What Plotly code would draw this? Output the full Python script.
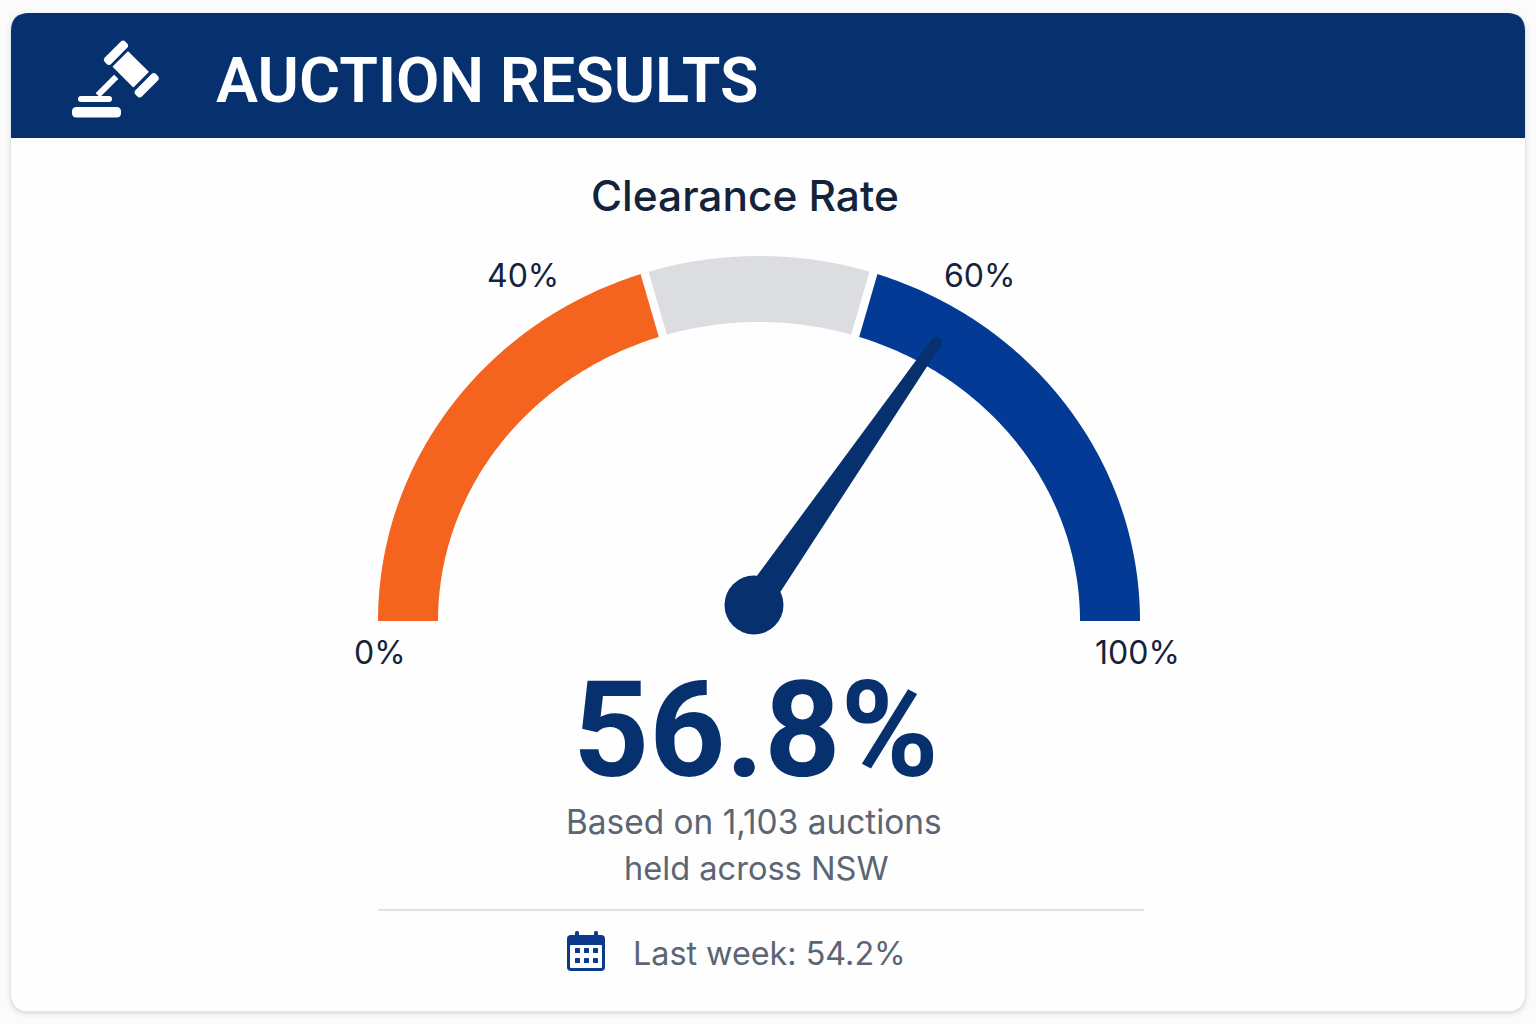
import numpy as np
import plotly.graph_objects as go

# gauge data
band_edges = [0, 40.3, 59.7, 100]
band_colors = ['#f5641f', '#dcdde0', '#023a96']
tick_labels = ['0%', '40%', '60%', '100%']
needle_reading = 69.3
clearance_text = '56.8%'
note_lines = ['Based on 1,103 auctions', 'held across NSW']
last_week_text = 'Last week: 54.2%'

NAVY = '#07306f'
CARD = '#fefefe'
PAGE = '#fbfbfc'
DARK = '#14233c'
SLATE = '#5b6575'
FONT = 'Inter'

# arc geometry in page pixels, the arc is a little squashed
CX, CY = 759, 621
RX_OUT, RY_OUT = 381, 365
RX_IN, RY_IN = 321, 299
HUB_X, HUB_Y = 754, 605
NEEDLE_LEN = 320


def arc_xy(pct, rx, ry):
    t = np.pi * (1 - np.asarray(pct, dtype=float) / 100)
    return CX + rx * np.cos(t), CY - ry * np.sin(t)


def round_box(x0, y0, x1, y1, r):
    return (f'M{x0+r},{y0} L{x1-r},{y0} Q{x1},{y0} {x1},{y0+r} L{x1},{y1-r} Q{x1},{y1} {x1-r},{y1} '
            f'L{x0+r},{y1} Q{x0},{y1} {x0},{y1-r} L{x0},{y0+r} Q{x0},{y0} {x0+r},{y0} Z')


def tilted_box(cx, cy, w, h, r, deg=45):
    # rounded box turned so that w runs along deg (screen y points down)
    a = np.radians(deg)
    u = np.array([np.cos(a), -np.sin(a)])
    v = np.array([np.sin(a), np.cos(a)])
    c = np.array([cx, cy])

    def p(s, t):
        q = c + s * u + t * v
        return f'{q[0]:.2f},{q[1]:.2f}'
    hw, hh = w / 2, h / 2
    return (f'M{p(-hw+r,-hh)} L{p(hw-r,-hh)} Q{p(hw,-hh)} {p(hw,-hh+r)} L{p(hw,hh-r)} Q{p(hw,hh)} {p(hw-r,hh)} '
            f'L{p(-hw+r,hh)} Q{p(-hw,hh)} {p(-hw,hh-r)} L{p(-hw,-hh+r)} Q{p(-hw,-hh)} {p(-hw+r,-hh)} Z')


shapes = []


def add_path(path, color, opacity=1):
    shapes.append(dict(type='path', path=path, fillcolor=color, line_width=0, layer='below',
                       xref='x', yref='y', opacity=opacity))


# card, soft shadow, header
for grow, alpha in [(6, 0.012), (4, 0.018), (2, 0.03), (1, 0.05)]:
    add_path(round_box(11 - grow, 13 - grow + 2, 1525 + grow, 1011 + grow + 2, 18 + grow), '#2a3a6a', alpha)
add_path(round_box(11, 13, 1525, 1011, 18), CARD)
add_path('M11,138 L11,31 Q11,13 29,13 L1507,13 Q1525,13 1525,31 L1525,138 Z', NAVY)

# gavel icon
add_path(tilted_box(116, 52.7, 29, 9, 3.5), 'white')
add_path(tilted_box(130.7, 69.3, 22, 29.5, 0.5), 'white')
add_path(tilted_box(146.7, 85.3, 29, 9, 3.5), 'white')
add_path(tilted_box(107, 86, 26, 6, 0.5), 'white')
add_path(round_box(78, 96, 112, 102, 3), 'white')
add_path(round_box(72, 107, 121, 117.5, 4.5), 'white')

# divider
shapes.append(dict(type='line', x0=378, x1=1144, y0=910, y1=910, xref='x', yref='y',
                   line=dict(color='#dfe2e6', width=2), layer='below'))

# calendar icon
add_path(round_box(567, 935, 605, 971, 4), '#0b3a8c')
add_path(round_box(570, 945, 602, 968, 1), CARD)
add_path(round_box(575, 931, 579, 939, 1.5), '#0b3a8c')
add_path(round_box(594, 931, 598, 939, 1.5), '#0b3a8c')
for dx in [575, 584, 593]:
    for dy in [948, 958]:
        add_path(round_box(dx, dy, dx + 5, dy + 5, 0.5), '#0b3a8c')

fig = go.Figure()

# coloured bands
for i, col in enumerate(band_colors):
    pcts = np.linspace(band_edges[i], band_edges[i + 1], 120)
    xo, yo = arc_xy(pcts, RX_OUT, RY_OUT)
    xi, yi = arc_xy(pcts[::-1], RX_IN, RY_IN)
    fig.add_trace(go.Scatter(x=np.r_[xo, xi], y=np.r_[yo, yi], mode='lines', fill='toself',
                             fillcolor=col, line=dict(width=0, simplify=False),
                             hoverinfo='skip', showlegend=False))

# white gaps between the bands
for edge in band_edges[1:-1]:
    xo, yo = arc_xy(edge, RX_OUT + 6, RY_OUT + 6)
    xi, yi = arc_xy(edge, RX_IN - 6, RY_IN - 6)
    fig.add_trace(go.Scatter(x=[xo, xi], y=[yo, yi], mode='lines', line=dict(color=CARD, width=8.3),
                             hoverinfo='skip', showlegend=False))

# needle
ang = np.pi * (1 - needle_reading / 100)
ux, uy = np.cos(ang), -np.sin(ang)
px, py = -uy, ux
tip_x, tip_y = HUB_X + NEEDLE_LEN * ux, HUB_Y + NEEDLE_LEN * uy
fig.add_trace(go.Scatter(x=[HUB_X - 15 * px, tip_x - 5.5 * px, tip_x + 5.5 * px, HUB_X + 15 * px],
                         y=[HUB_Y - 15 * py, tip_y - 5.5 * py, tip_y + 5.5 * py, HUB_Y + 15 * py],
                         mode='lines', fill='toself', fillcolor=NAVY, line=dict(width=0),
                         hoverinfo='skip', showlegend=False))
fig.add_trace(go.Scatter(x=[tip_x, HUB_X], y=[tip_y, HUB_Y], mode='markers',
                         marker=dict(color=NAVY, size=[11, 59], opacity=1, line=dict(width=0)),
                         hoverinfo='skip', showlegend=False))


def label(text, x, y, size, color, weight=400, anchor='center', font=FONT):
    fig.add_annotation(x=x, y=y, text=text, showarrow=False, xanchor=anchor, yanchor='middle',
                       xref='x', yref='y', font=dict(family=font, size=size, color=color, weight=weight))


label('AUCTION RESULTS', 214, 80, 63, 'white', 600, 'left', 'Roboto')
label('Clearance Rate', 745, 195, 42.4, DARK, 500)
tick_pos = [(380, 652), (523, 275), (979, 275), (1137, 652)]
for t, (tx, ty) in zip(tick_labels, tick_pos):
    label(t, tx, ty, 32, DARK)
label(clearance_text, 756, 730, 133, NAVY, 700, font='Roboto')
label(note_lines[0], 754, 822, 33.4, SLATE)
label(note_lines[1], 756, 868, 32.6, SLATE)
label(last_week_text, 631, 953, 32.3, SLATE, 400, 'left')

fig.update_xaxes(range=[0, 1536], visible=False, fixedrange=True)
fig.update_yaxes(range=[1024, 0], visible=False, fixedrange=True)
fig.update_layout(width=1536, height=1024, margin=dict(l=0, r=0, t=0, b=0),
                  paper_bgcolor=PAGE, plot_bgcolor=PAGE, shapes=shapes, showlegend=False)

fig.write_html('out.html', config=dict(displayModeBar=False),
               post_script="document.body.style.margin='0';")
